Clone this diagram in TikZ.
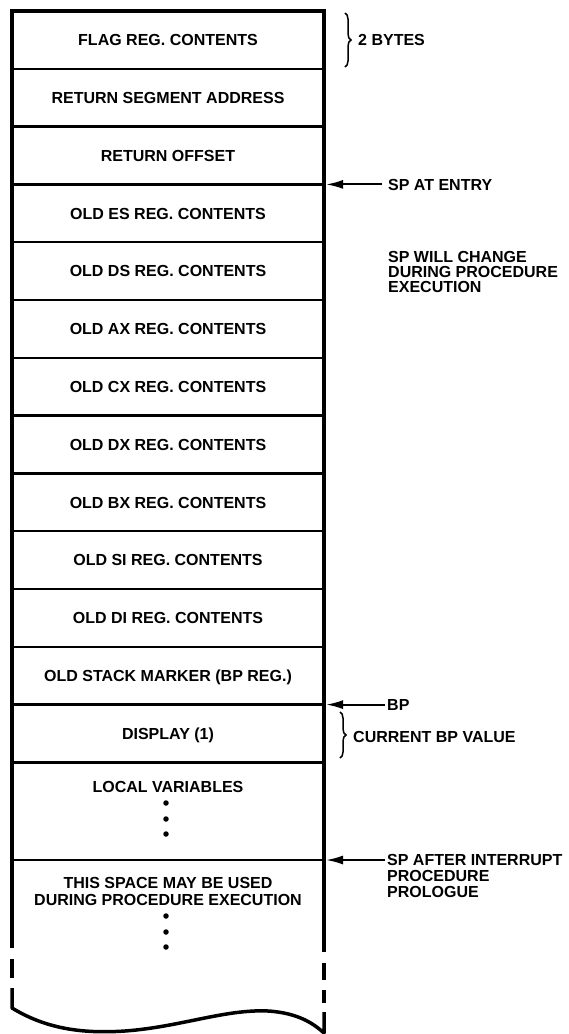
\documentclass[tikz,border=0pt]{standalone}
\usepackage{fontspec}
\setmainfont{Liberation Sans}
\usetikzlibrary{arrows.meta,decorations.pathreplacing}
\begin{document}
\begin{tikzpicture}[x=1pt,y=-1pt,
  lbl/.style={font=\fontsize{16}{16}\selectfont\bfseries, inner sep=0pt, text height=11.5pt, text depth=0pt},
  mlbl/.style={inner sep=0pt},
  side/.style={line width=3.5pt},
  sep/.style={line width=2.5pt},
  ptr/.style={line width=2pt, -{Latex[length=17pt,width=9pt]}},
  brc/.style={line width=1.5pt, decorate, decoration={brace, amplitude=6pt}},
  dotm/.style={circle, fill, inner sep=0pt, minimum size=5.5pt}]
\useasboundingbox (0,0) rectangle (569,1034);
% inner separators
\foreach \i in {1,...,13} \draw[sep] (12,{11+57.8*\i}) -- (324,{11+57.8*\i});
\draw[sep] (12,860) -- (324,860);
% outer sides
\draw[side] (12,948) -- (12,11) -- (324,11) -- (324,952);
\draw[side] (12,959) -- (12,978);
\draw[side] (324,963) -- (324,980);
\draw[side] (324,990) -- (324,1003);
\draw[side, line join=round] (12,988) -- (12,1008)
  .. controls (45,1028) and (80,1034) .. (125,1031)
  .. controls (180,1027) and (225,1009) .. (268,1011)
  .. controls (300,1013) and (315,1025) .. (324,1033) -- (324,1012);
% row labels
\foreach \t [count=\i from 0] in {{FLAG REG. CONTENTS},{RETURN SEGMENT ADDRESS},{RETURN OFFSET},
  {OLD ES REG. CONTENTS},{OLD DS REG. CONTENTS},{OLD AX REG. CONTENTS},{OLD CX REG. CONTENTS},
  {OLD DX REG. CONTENTS},{OLD BX REG. CONTENTS},{OLD SI REG. CONTENTS},{OLD DI REG. CONTENTS},
  {OLD STACK MARKER (BP REG.)},{DISPLAY (1)}}
  \node[lbl] (r\i) at (168,{39.9+57.8*\i}) {\t};
\node[lbl] (loc) at (168,787) {LOCAL VARIABLES};
\node[dotm] (ld1) at (166,803) {};
\node[dotm] (ld2) at (166,819) {};
\node[dotm] (ld3) at (166,834) {};
\node[mlbl, anchor=north, align=center, font=\fontsize{16}{16.7}\selectfont\bfseries] (free) at (168,877.3)
  {THIS SPACE MAY BE USED\\DURING PROCEDURE EXECUTION};
\node[dotm] (fd1) at (166,916) {};
\node[dotm] (fd2) at (166,932) {};
\node[dotm] (fd3) at (166,947) {};
% right labels
\draw[brc] (345,13) -- (345,67);
\node[lbl, anchor=west] (two) at (358,40) {2 BYTES};
\coordinate (e1) at (326,184.4);
\node[lbl, anchor=west] (spe) at (388,184.4) {SP AT ENTRY};
\draw[ptr, shorten <=6pt] (spe.west) -- (e1);
\node[mlbl, anchor=north west, align=left, font=\fontsize{16}{15}\selectfont\bfseries] (chg) at (388,251.3)
  {SP WILL CHANGE\\DURING PROCEDURE\\EXECUTION};
\coordinate (bp) at (326,704.6);
\node[lbl, anchor=west] (bpl) at (387,704.6) {BP};
\draw[ptr, shorten <=2pt] (bpl.west) -- (bp);
\draw[brc] (340,712) -- (340,758);
\node[lbl, anchor=west] (cur) at (353,737) {CURRENT BP VALUE};
\coordinate (sa) at (326,860);
\node[mlbl, anchor=north west, align=left, font=\fontsize{16}{16}\selectfont\bfseries] (spa) at (387,854.2)
  {SP AFTER INTERRUPT\\PROCEDURE\\PROLOGUE};
\draw[ptr] ([xshift=-2pt]spa.north west |- sa) -- (sa);
\end{tikzpicture}
\end{document}
